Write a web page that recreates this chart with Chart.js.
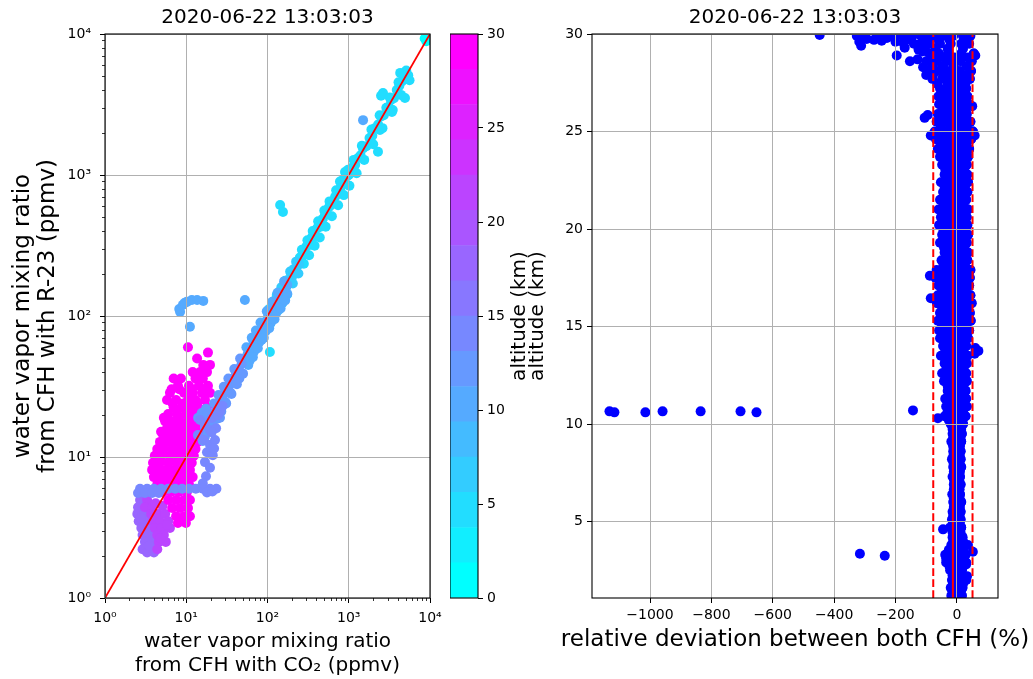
<!DOCTYPE html>
<html><head><meta charset="utf-8">
<script src="https://cdn.jsdelivr.net/npm/chart.js@4.4.0/dist/chart.umd.min.js"></script>
<style>
html,body{margin:0;padding:0;background:#fff;overflow:hidden;width:1033px;height:679px;}
#wrap{position:relative;width:1033px;height:679px;overflow:hidden;background:#fff;}
canvas{position:absolute;top:0;}
</style></head><body>
<div id="wrap">
<canvas id="left" width="535" height="679" style="left:0px;width:535px;height:679px"></canvas>
<canvas id="cbar" width="80" height="679" style="left:450px;width:80px;height:679px"></canvas>
<canvas id="right" width="580" height="679" style="left:505px;width:580px;height:679px"></canvas>
</div>
<script>
// ---------------- DATA (left panel: CO2 vs R-23 mixing ratio, ppmv) ----------------
const titleText = '2020-06-22 13:03:03';
const logTickValues = [1, 10, 100, 1000, 10000];
const logTickLabels = ['10⁰', '10¹', '10²', '10³', '10⁴'];
const minorMultipliers = [2, 3, 4, 5, 6, 7, 8, 9];
const oneToOne = [1, 10000];

// magenta blob (~28-30 km)
const magAlt = 28.5;
const magX = [10.5, 18.5, 13.6, 16.2, 19.6, 12, 14.8, 18, 7, 8.6, 13, 16, 7.9, 10.8, 14.3, 18.5,
  6.3, 9.4, 12, 15.6, 19.6, 5.8, 7.5, 10.5, 13, 17, 7, 8.8, 11, 14, 18, 6, 7.7, 9.9, 12.4, 15.6,
  5.5, 6.7, 8.4, 10.5, 13, 16, 5.8, 7.3, 9.1, 11.4, 14.3, 5.2, 6.3, 7.9, 9.9, 12.4, 15.2,
  4.75, 5.8, 7.3, 9.1, 11.4, 13.9, 4.4, 5.3, 6.7, 8.4, 10.5, 13, 4.1, 5.0, 6.3, 7.9, 9.9, 12.4,
  3.9, 4.75, 6.0, 7.5, 9.4, 11.7, 3.8, 4.6, 5.6, 7.1, 8.9, 11.1, 4.0, 4.9, 6.1, 7.7, 9.7, 12,
  4.4, 5.5, 6.9, 8.6, 10.8, 5.2, 6.5, 8.1, 10.2, 6.0, 7.5, 9.4, 11.1, 6.7, 8.4, 10.5, 7.5, 9.4, 11.1, 7.9, 9.9,
  6.6, 8.2, 11.6, 16.8, 6.8, 9.2, 13.6, 5.3, 8.0, 11.9, 17.6, 4.9, 6.5, 8.6, 11.0, 14.5];
const magY = [60, 55, 50, 45, 45, 40, 40, 40, 36, 36, 36, 36, 32, 32, 32, 32,
  28.5, 28.5, 28.5, 28.5, 28.5, 25.4, 25.4, 25.4, 25.4, 25.4, 22.5, 22.5, 22.5, 22.5, 22.5, 20.2, 20.2, 20.2, 20.2, 20.2,
  17.9, 17.9, 17.9, 17.9, 17.9, 17.9, 16, 16, 16, 16, 16, 14.3, 14.3, 14.3, 14.3, 14.3, 14.3,
  12.8, 12.8, 12.8, 12.8, 12.8, 12.8, 11.4, 11.4, 11.4, 11.4, 11.4, 11.4, 10.2, 10.2, 10.2, 10.2, 10.2, 10.2,
  9.1, 9.1, 9.1, 9.1, 9.1, 9.1, 8.1, 8.1, 8.1, 8.1, 8.1, 8.1, 7.2, 7.2, 7.2, 7.2, 7.2, 7.2,
  6.4, 6.4, 6.4, 6.4, 6.4, 5.65, 5.65, 5.65, 5.65, 4.95, 4.95, 4.95, 4.95, 4.35, 4.35, 4.35, 3.8, 3.8, 3.8, 3.4, 3.4,
  30.2, 30.2, 30.2, 30.2, 24, 24, 24, 19, 19, 19, 19, 15.1, 15.1, 15.1, 15.1, 15.1];

// purple cluster (~21 km) and violet cluster (~17 km)
const purAlt = 21;
const purX = [3.3, 3.1, 3.8, 3.7, 4.5, 5.5, 3.9, 4.75, 6.0, 4.1, 5.0, 6.3, 4.4, 5.3, 4.6, 5.6, 4.4, 4.2, 5.1, 4.8, 5.8];
const purY = [4.95, 4.4, 4.4, 3.95, 3.95, 3.95, 3.5, 3.5, 3.5, 3.14, 3.14, 3.14, 2.8, 2.8, 2.5, 2.5, 2.22, 4.7, 4.5, 2.65, 3.3];
const vioAlt = 17;
const vioX = [2.7, 2.55, 2.5, 3.0, 2.6, 3.2, 2.8, 3.4, 2.9, 3.6, 3.1, 3.8, 2.9, 3.6, 3.3, 4.0, 2.75, 3.25, 3.5];
const vioY = [4.95, 4.4, 3.95, 3.95, 3.5, 3.5, 3.14, 3.14, 2.8, 2.8, 2.5, 2.5, 2.22, 2.22, 2.1, 2.1, 3.7, 2.95, 2.35];

// blue band (~14 km): horizontal streak near 6 ppmv and branch right of the line
const bluAlt = 14;
const bluX = [2.7, 3.3, 4.0, 4.9, 6.0, 7.3, 8.9, 10.8, 13.1, 16, 19.6, 23.5, 2.55, 3.1, 3.8, 4.6, 18, 21,
  14.8, 17, 19.6, 13.9, 16.5, 19.6, 22.6, 18, 21.2, 17, 19.6, 17.5, 16, 23.3, 20.8, 24.5, 26, 28, 22, 20.5];
const bluY = [5.95, 5.95, 5.95, 5.95, 5.95, 5.95, 5.95, 5.95, 5.95, 5.95, 5.95, 5.95, 5.55, 5.55, 5.55, 5.55, 5.6, 5.7,
  18.3, 16.9, 15.5, 14.3, 13.2, 12.2, 13.2, 10.8, 10.3, 9.2, 8.4, 7.3, 6.5, 16, 18.9, 19.8, 21, 23, 11.5, 15];

// light blue (~11-12 km) along the 1:1 line
const lb1Alt = 11.5;
const lb1X = [14, 15.5, 17.5, 17, 17, 19, 21, 21, 23, 26, 26, 26, 28, 30, 30, 32, 35, 35, 38, 41, 41, 44, 45, 48, 48,
  16, 18, 20, 22, 24, 25, 27, 29, 31, 33, 36, 39, 42, 46, 50];
const lb1Y = [19, 20.5, 22, 16.2, 14, 18.5, 20, 17.2, 21, 24.7, 21.3, 19, 27, 28.5, 24.6, 30, 33, 28.7, 36, 39, 33.6, 42, 36, 45.6, 39.4,
  13, 20, 15.6, 24, 18.7, 27.5, 21, 31.5, 24, 36, 28, 42, 32.8, 50, 39];
const lb2Alt = 10.5;
const lb2X = [52, 57, 57, 60, 62, 68, 68, 74, 80, 80, 85, 87, 95, 95, 102, 110, 110, 118, 128, 128, 138, 150, 150, 175, 175,
  8.4, 8.2, 9.1, 10.2, 11.7, 13.6, 16.2, 9.6, 11.1, 52.7, 1500,
  55, 58, 64, 66, 72, 76, 82, 90, 98, 105, 115, 122, 133, 145, 160, 165];
const lb2Y = [50, 54, 46.7, 48, 60, 64.6, 55.8, 72, 76, 65.6, 68, 84, 90, 78, 100, 104, 90, 114, 121, 105, 134, 142, 123, 166, 144,
  107, 112, 120, 126, 130, 130, 128, 124, 84, 130, 2450,
  60, 45, 70, 51, 79, 59, 90, 70, 108, 82, 126, 95, 146, 113, 176, 129];

// sky blue (~7 km)
const skyAlt = 7;
const skyX = [100, 105, 112, 120, 125, 132, 140, 145, 155, 160, 170, 178, 185, 195, 200, 210, 220, 235, 245,
  102, 108, 116, 122, 130, 136, 148, 152, 165, 175, 190, 205, 225, 240];
const skyY = [96, 112, 104, 115, 130, 122, 140, 132, 150, 162, 160, 180, 175, 200, 188, 215, 205, 240, 232,
  110, 88, 126, 100, 141, 110, 160, 123, 178, 142, 207, 170, 243, 200];

// cyan (~4 km)
const cyaAlt = 4;
const cyaX = [250, 260, 275, 290, 300, 320, 335, 350, 370, 390, 410, 430, 450, 480, 510, 540, 570, 600, 640, 680,
  720, 760, 800, 850, 900, 950, 1000, 1050, 1100, 1200, 1300, 1400, 1500, 1650, 1800, 1950, 2100, 2300, 2500, 2700,
  2900, 3100, 3300, 3600, 3900, 4200, 4500, 4700, 5000, 5400, 5600, 4300, 5100, 2640, 2500, 2290, 4920, 3480, 2420,
  143, 155, 107, 780, 900, 1050,
  265, 280, 310, 325, 360, 380, 420, 440, 500, 520, 580, 620, 700, 740, 820, 870, 980, 1020, 1150, 1250,
  1450, 1550, 1900, 2000, 2400, 2600, 3200, 3400, 4100, 4400];
const cyaY = [260, 245, 285, 275, 310, 330, 320, 360, 380, 370, 420, 440, 430, 490, 520, 530, 590, 610, 630, 700,
  730, 750, 820, 860, 880, 980, 1000, 1030, 1130, 1180, 1320, 1380, 1540, 1600, 1830, 1900, 2150, 2280, 2600, 2650,
  3000, 3050, 3400, 3500, 4000, 4300, 4600, 5200, 5300, 5100, 4700, 5300, 5500, 3820, 3650, 1460, 3520, 2890, 2084,
  612, 547, 55.6, 900, 1050, 1100,
  295, 235, 345, 270, 400, 315, 470, 360, 560, 430, 650, 510, 780, 610, 910, 720, 1090, 840, 1280, 1030,
  1610, 1280, 2100, 1650, 2650, 2150, 3550, 2800, 4550, 3700];

// surface (~0.5 km)
const surAlt = 0.5;
const surX = [8600, 9400, 9000];
const surY = [9300, 9600, 8900];

// colorbar
const cbarBounds = [0, 1.875, 3.75, 5.625, 7.5, 9.375, 11.25, 13.125, 15, 16.875, 18.75, 20.625, 22.5, 24.375, 26.25, 28.125, 30];
const cbarTicks = [0, 5, 10, 15, 20, 25, 30];

// ---------------- DATA (right panel: relative deviation %, altitude km) ----------------
const devTicks = [-1000, -800, -600, -400, -200, 0];
const altTicks = [5, 10, 15, 20, 25, 30];
const devLimits = [-1189, 134];
const altLimits = [1.08, 30];
const meanDev = -13;
const lowerDev = -77;
const upperDev = 51;

const bandAlt = [1.2, 1.6, 2.0, 2.5, 2.9, 3.3, 3.8, 4.2, 4.7, 5.1, 5.5, 6.0, 6.4, 6.9, 7.3, 7.8, 8.2, 8.6, 9.1, 9.5,
  10.0, 10.4, 10.9, 11.3, 11.7, 12.2, 12.6, 13.1, 13.5, 14.0, 14.4, 14.8, 15.3, 15.7, 16.2, 16.6, 17.1, 17.5, 17.9, 18.4,
  18.8, 19.3, 19.7, 20.2, 20.6, 21.0, 21.5, 21.9, 22.4, 22.8, 23.3, 23.7, 24.1, 24.6, 25.0, 25.5, 25.9, 26.4, 26.8, 27.2,
  27.7, 28.1, 28.6, 29.0, 29.5, 29.9];
const bandDev1 = [-18, -20, -16, -22, -35, -38, -18, -14, -22, -16, -14, -12, -15, -10, -14, -12, -16, -12, -18, -14,
  -20, -40, -35, -38, -30, -42, -48, -40, -52, -45, -55, -58, -62, -55, -65, -62, -60, -70, -66, -50,
  -40, -55, -48, -58, -52, -60, -55, -45, -52, -40, -48, -55, -62, -68, -72, -66, -62, -58, -60, -55,
  -80, -95, -100, -90, -120, -110];
const bandDev2 = [-9, -10, -6, -12, -18, -20, -7, -5, -11, -8, -7, -5, -7, -4, -7, -5, -8, -5, -9, -6,
  -10, -22, -18, -20, -15, -24, -28, -22, -30, -26, -32, -34, -36, -30, -38, -36, -34, -40, -38, -28,
  -22, -30, -26, -32, -28, -34, -30, -24, -28, -22, -26, -30, -36, -38, -40, -36, -34, -32, -34, -30,
  -48, -62, -66, -58, -88, -80];
const bandDev3 = [0, -1, 4, -3, -2, -2, 3, 3, -1, 0, -1, 2, 0, 2, -1, 2, -1, 2, 0, 1,
  0, -6, -2, -4, 0, -6, -8, -4, -8, -6, -10, -10, -12, -6, -12, -10, -8, -12, -10, -6,
  -4, -8, -4, -8, -4, -8, -6, -4, -6, -2, -4, -6, -10, -10, -10, -8, -8, -6, -8, -6,
  -16, -30, -32, -28, -55, -45];
const bandDev4 = [8, 9, 15, 7, 14, 14, 15, 10, 7, 6, 5, 8, 5, 7, 5, 8, 6, 7, 7, 9,
  10, 10, 14, 12, 15, 12, 12, 14, 12, 14, 12, 14, 14, 18, 14, 16, 16, 14, 16, 14,
  16, 14, 16, 14, 16, 14, 14, 14, 14, 16, 14, 14, 14, 16, 16, 18, 14, 16, 14, 14,
  14, 10, 12, 14, -20, -12];
const bandDev5 = [16, 18, 30, 16, 30, 28, 28, 18, 14, 12, 12, 14, 10, 12, 10, 14, 12, 12, 14, 16,
  20, 28, 32, 30, 28, 32, 30, 32, 34, 30, 36, 40, 45, 42, 48, 44, 40, 42, 44, 34,
  36, 32, 36, 34, 32, 36, 30, 34, 36, 34, 32, 36, 40, 46, 52, 44, 32, 40, 34, 30,
  42, 46, 48, 55, 14, 20];
const bandDev6 = [16, 18, 30, 16, 30, 28, 28, 18, 14, 12, 12, 14, 10, 12, 10, 14, 12, 12, 14, 16,
  20, 28, 32, 30, 28, 32, 30, 32, 34, 30, 36, 40, 45, 42, 48, 44, 40, 42, 44, 34,
  36, 32, 36, 34, 32, 36, 30, 34, 36, 34, 32, 36, 40, 46, 52, 44, 32, 40, 34, 30,
  42, 46, 48, 55, 40, 44];
// intermediate (staggered) levels of the dense band
const midAlt = [1.4, 1.8, 2.25, 2.7, 3.1, 3.55, 4.0, 4.45, 4.9, 5.3, 5.75, 6.2, 6.65, 7.1, 7.55, 8.0, 8.4, 8.85, 9.3, 9.75,
  10.2, 10.65, 11.1, 11.5, 11.95, 12.4, 12.85, 13.3, 13.75, 14.2, 14.6, 15.05, 15.5, 15.95, 16.4, 16.85, 17.3, 17.7, 18.15, 18.6,
  19.05, 19.5, 19.95, 20.4, 20.8, 21.25, 21.7, 22.15, 22.6, 23.05, 23.5, 23.9, 24.35, 24.8, 25.25, 25.7, 26.15, 26.6, 27.0, 27.45,
  27.9, 28.35, 28.8, 29.25, 29.7];
const midDev1 = [-14, -13, -14, -24, -28, -26, -12, -14, -12, -12, -10, -10, -10, -9, -10, -11, -11, -12, -12, -14,
  -26, -30, -28, -26, -30, -36, -34, -38, -38, -42, -46, -48, -46, -48, -50, -48, -52, -54, -44, -32,
  -42, -38, -44, -42, -46, -44, -38, -40, -32, -38, -42, -48, -52, -56, -52, -50, -46, -46, -44, -64,
  -78, -80, -78, -104, -96];
const midDev2 = [-5, -3, -4, -8, -10, -8, -2, -4, -4, -4, -3, -3, -3, -2, -3, -4, -3, -4, -4, -4,
  -12, -14, -12, -10, -12, -16, -14, -18, -16, -20, -22, -24, -20, -22, -24, -22, -26, -24, -18, -14,
  -18, -16, -20, -18, -20, -18, -14, -16, -12, -14, -18, -22, -24, -26, -22, -22, -20, -20, -18, -30,
  -40, -46, -44, -70, -60];
const midDev3 = [4, 7, 6, 6, 6, 8, 8, 4, 3, 2, 3, 4, 4, 4, 3, 3, 3, 3, 4, 5,
  4, 4, 4, 6, 4, 2, 4, 2, 2, 2, 2, 2, 4, 2, 2, 4, 2, 2, 4, 6,
  4, 6, 4, 6, 4, 4, 6, 4, 6, 6, 4, 2, 2, 4, 6, 4, 4, 4, 4, 0,
  -4, -10, -8, -30, -24];
const midDev4 = [12, 20, 18, 20, 22, 20, 20, 12, 9, 9, 10, 9, 9, 8, 10, 9, 9, 10, 12, 14,
  18, 20, 22, 22, 22, 22, 22, 24, 22, 24, 26, 30, 30, 32, 32, 28, 28, 30, 26, 26,
  24, 26, 24, 24, 26, 22, 24, 26, 26, 24, 26, 28, 30, 34, 32, 24, 28, 24, 22, 28,
  30, 32, 36, 20, 24];
// extra scattered points near the top of the profile and small bumps of the band
const topAlt = [29.95, 29.9, 29.6, 29.4, 29.75, 29.7, 29.8, 29.65, 29.8, 29.9, 29.95, 29.85, 29.9, 28.9, 28.6, 29.5,
  29.2, 28.7, 28.3, 27.9, 29.7, 29.3, 29.1, 29.9, 29.8, 30.0, 29.6, 29.95, 29.55];
const topDev = [-447, -326, -318, -312, -294, -270, -260, -245, -228, -205, -180, -160, -145, -196, -153, -140,
  -125, -128, -110, -100, -150, -170, -112, -300, -240, -215, -200, -120, -175];
const bumpAlt = [13.75, 13.9, 13.6, 16.45, 17.6, 24.8, 24.8, 25.7, 25.85, 26.3, 28.9, 4.6, 3.45, 3.8, 2.2, 3.1, 2.8, 10.3, 10.7];
const bumpDev = [70, 60, 58, -85, -88, -85, 58, -105, -95, 50, 60, -45, 52, 36, 33, -35, 30, -62, -143];
const outAlt = [10.65, 10.6, 10.6, 10.65, 10.65, 10.65, 10.6, 3.35, 3.25];
const outDev = [-1132, -1116, -1015, -959, -835, -705, -653, -316, -235];

// ---------------- helpers & styling ----------------
const FONT = "'DejaVu Sans', 'Liberation Sans', sans-serif";
const TXT = '#000';
const GRID = '#b0b0b0';
function coolColor(alt) {
  const bin = Math.min(15, Math.max(0, Math.floor(alt / 30 * 16)));
  const t = bin / 15;
  return 'rgb(' + Math.round(255 * t) + ',' + Math.round(255 * (1 - t)) + ',255)';
}
function pts(xs, ys) { return xs.map((v, i) => ({x: v, y: ys[i]})); }
function dots(data, color, order) {
  return {type: 'scatter', data, backgroundColor: color, borderWidth: 0, pointRadius: 5, pointHoverRadius: 5, order};
}
const boxPlugin = {id: 'box', afterDraw(chart) {
  const a = chart.chartArea, c = chart.ctx;
  c.save(); c.strokeStyle = '#000'; c.lineWidth = 1.1;
  c.strokeRect(a.left, a.top, a.right - a.left, a.bottom - a.top); c.restore();
}};
const minorPlugin = {id: 'minor', afterDraw(chart) {
  const {ctx, scales, chartArea: a} = chart;
  ctx.save(); ctx.strokeStyle = '#000'; ctx.lineWidth = 0.8; ctx.beginPath();
  for (const d of logTickValues.slice(0, -1)) for (const m of minorMultipliers) {
    const v = d * m;
    const px = Math.round(scales.x.getPixelForValue(v)) + 0.5;
    ctx.moveTo(px, a.bottom); ctx.lineTo(px, a.bottom + 3);
    const py = Math.round(scales.y.getPixelForValue(v)) + 0.5;
    ctx.moveTo(a.left, py); ctx.lineTo(a.left - 3, py);
  }
  ctx.stroke(); ctx.restore();
}};
// x-axis label drawn without the width limit Chart.js imposes on axis titles
const wideXTitle = {id: 'wideXTitle', afterDraw(chart, args, opts) {
  if (!opts || !opts.text) return;
  const a = chart.chartArea, c = chart.ctx;
  c.save(); c.font = opts.size + 'px ' + FONT; c.fillStyle = TXT;
  c.textAlign = 'center'; c.textBaseline = 'middle';
  c.fillText(opts.text, (a.left + a.right) / 2, a.bottom + opts.offset); c.restore();
}};
const tickFont = {family: FONT, size: 14};
const gridOpts = {z: 1, color: GRID, lineWidth: 1, drawTicks: true, tickLength: 5, tickColor: '#000', tickWidth: 1};
const spacer = w => ({type: 'linear', position: 'right', display: true, min: 0, max: 1,
  afterFit: s => { s.width = w; s.paddingTop = 0; s.paddingBottom = 0; },
  grid: {display: false, drawTicks: false}, ticks: {display: false}, border: {display: false}});

// ---------------- LEFT chart ----------------
new Chart(document.getElementById('left'), {
  type: 'scatter',
  data: {datasets: [
    {type: 'line', data: [{x: oneToOne[0], y: oneToOne[0]}, {x: oneToOne[1], y: oneToOne[1]}],
      borderColor: '#ff0000', borderWidth: 1.8, pointRadius: 0, fill: false, order: 0},
    dots(pts(bluX, bluY), coolColor(bluAlt), 1),
    dots(pts(lb1X, lb1Y), coolColor(lb1Alt), 2),
    dots(pts(lb2X, lb2Y), coolColor(lb2Alt), 3),
    dots(pts(skyX, skyY), coolColor(skyAlt), 4),
    dots(pts(cyaX, cyaY), coolColor(cyaAlt), 5),
    dots(pts(surX, surY), coolColor(surAlt), 6),
    dots(pts(magX, magY), coolColor(magAlt), 7),
    dots(pts(purX, purY), coolColor(purAlt), 8),
    dots(pts(vioX, vioY), coolColor(vioAlt), 9)
  ]},
  options: {
    responsive: false, animation: false, events: [],
    layout: {padding: 0},
    plugins: {legend: {display: false}, tooltip: {enabled: false},
      title: {display: true, text: titleText, color: TXT, font: {family: FONT, size: 20, weight: 'normal', lineHeight: 1.2}, padding: {top: 6, bottom: 4}}},
    scales: {
      x: {type: 'logarithmic', min: logTickValues[0], max: logTickValues[logTickValues.length - 1],
        afterBuildTicks: s => { s.ticks = logTickValues.map(v => ({value: v})); },
        afterFit: s => { s.height = 81; s.paddingLeft = 0; s.paddingRight = 0; },
        grid: gridOpts, border: {display: false},
        ticks: {font: tickFont, color: TXT, padding: 7, maxRotation: 0, minRotation: 0, autoSkip: false,
          callback: v => logTickLabels[logTickValues.indexOf(v)]},
        title: {display: true, text: ['water vapor mixing ratio', 'from CFH with CO₂ (ppmv)'], color: TXT,
          font: {family: FONT, size: 20, lineHeight: 1.17}, padding: {top: 0, bottom: 2}}},
      y: {type: 'logarithmic', min: logTickValues[0], max: logTickValues[logTickValues.length - 1],
        afterBuildTicks: s => { s.ticks = logTickValues.map(v => ({value: v})); },
        afterFit: s => { s.width = 105; s.paddingTop = 0; s.paddingBottom = 0; },
        grid: gridOpts, border: {display: false},
        ticks: {font: tickFont, color: TXT, padding: 9, autoSkip: false,
          callback: v => logTickLabels[logTickValues.indexOf(v)]},
        title: {display: true, text: ['water vapor mixing ratio', 'from CFH with R-23 (ppmv)'], color: TXT,
          font: {family: FONT, size: 23, lineHeight: 1.1}, padding: {top: 10, bottom: 0}}},
      pad: spacer(105)
    }
  },
  plugins: [boxPlugin, minorPlugin]
});

// ---------------- COLORBAR ----------------
new Chart(document.getElementById('cbar'), {
  type: 'bar',
  data: {labels: [''], datasets: cbarBounds.slice(0, -1).map((lo, i) => ({
    data: [[lo, cbarBounds[i + 1]]], backgroundColor: coolColor((lo + cbarBounds[i + 1]) / 2),
    borderWidth: 0, barPercentage: 1, categoryPercentage: 1, grouped: false}))},
  options: {
    responsive: false, animation: false, events: [],
    layout: {padding: {top: 34, bottom: 81, left: 0, right: 0}},
    plugins: {legend: {display: false}, tooltip: {enabled: false}},
    scales: {
      x: {display: false},
      y: {position: 'right', min: cbarBounds[0], max: cbarBounds[cbarBounds.length - 1],
        afterBuildTicks: s => { s.ticks = cbarTicks.map(v => ({value: v})); },
        afterFit: s => { s.width = 52; s.paddingTop = 0; s.paddingBottom = 0; },
        grid: {display: true, drawOnChartArea: false, drawTicks: true, tickLength: 5, tickColor: '#000', tickWidth: 1},
        border: {display: false},
        ticks: {font: tickFont, color: TXT, padding: 4, autoSkip: false}}
    }
  },
  plugins: [boxPlugin]
});

// ---------------- RIGHT chart ----------------
const blue = '#0000ff';
new Chart(document.getElementById('right'), {
  type: 'scatter',
  data: {datasets: [
    {type: 'line', data: [{x: meanDev, y: altLimits[0]}, {x: meanDev, y: altLimits[1]}], borderColor: '#ff0000', borderWidth: 2, pointRadius: 0, order: 0},
    {type: 'line', data: [{x: lowerDev, y: altLimits[0]}, {x: lowerDev, y: altLimits[1]}], borderColor: '#ff0000', borderWidth: 2, borderDash: [7.7, 3.3], pointRadius: 0, order: 0},
    {type: 'line', data: [{x: upperDev, y: altLimits[0]}, {x: upperDev, y: altLimits[1]}], borderColor: '#ff0000', borderWidth: 2, borderDash: [7.7, 3.3], pointRadius: 0, order: 0},
    dots(pts(bandDev1, bandAlt), blue, 1),
    dots(pts(bandDev2, bandAlt), blue, 1),
    dots(pts(bandDev3, bandAlt), blue, 1),
    dots(pts(bandDev4, bandAlt), blue, 1),
    dots(pts(bandDev5, bandAlt), blue, 1),
    dots(pts(bandDev6, bandAlt), blue, 1),
    dots(pts(midDev1, midAlt), blue, 1),
    dots(pts(midDev2, midAlt), blue, 1),
    dots(pts(midDev3, midAlt), blue, 1),
    dots(pts(midDev4, midAlt), blue, 1),
    dots(pts(topDev, topAlt), blue, 1),
    dots(pts(bumpDev, bumpAlt), blue, 1),
    dots(pts(outDev, outAlt), blue, 1)
  ]},
  options: {
    responsive: false, animation: false, events: [],
    layout: {padding: 0},
    plugins: {legend: {display: false}, tooltip: {enabled: false},
      title: {display: true, text: titleText, color: TXT, font: {family: FONT, size: 20, weight: 'normal', lineHeight: 1.2}, padding: {top: 6, bottom: 4}},
      wideXTitle: {text: 'relative deviation between both CFH (%)', size: 23, offset: 42}},
    scales: {
      x: {type: 'linear', min: devLimits[0], max: devLimits[1],
        afterBuildTicks: s => { s.ticks = devTicks.map(v => ({value: v})); },
        afterFit: s => { s.height = 81; s.paddingLeft = 0; s.paddingRight = 0; },
        grid: gridOpts, border: {display: false},
        ticks: {font: tickFont, color: TXT, padding: 4, maxRotation: 0, minRotation: 0, autoSkip: false,
          callback: v => String(v).replace('-', '−')}},
      y: {type: 'linear', min: altLimits[0], max: altLimits[1],
        afterBuildTicks: s => { s.ticks = altTicks.map(v => ({value: v})); },
        afterFit: s => { s.width = 87; s.paddingTop = 0; s.paddingBottom = 0; },
        grid: gridOpts, border: {display: false},
        ticks: {font: tickFont, color: TXT, padding: 4, autoSkip: false},
        title: {display: true, text: ['altitude (km)', 'altitude (km)'], color: TXT,
          font: {family: FONT, size: 20, lineHeight: 0.9}, padding: {top: 6, bottom: 0}}},
      pad: spacer(87)
    }
  },
  plugins: [boxPlugin, wideXTitle]
});
</script>
</body></html>
